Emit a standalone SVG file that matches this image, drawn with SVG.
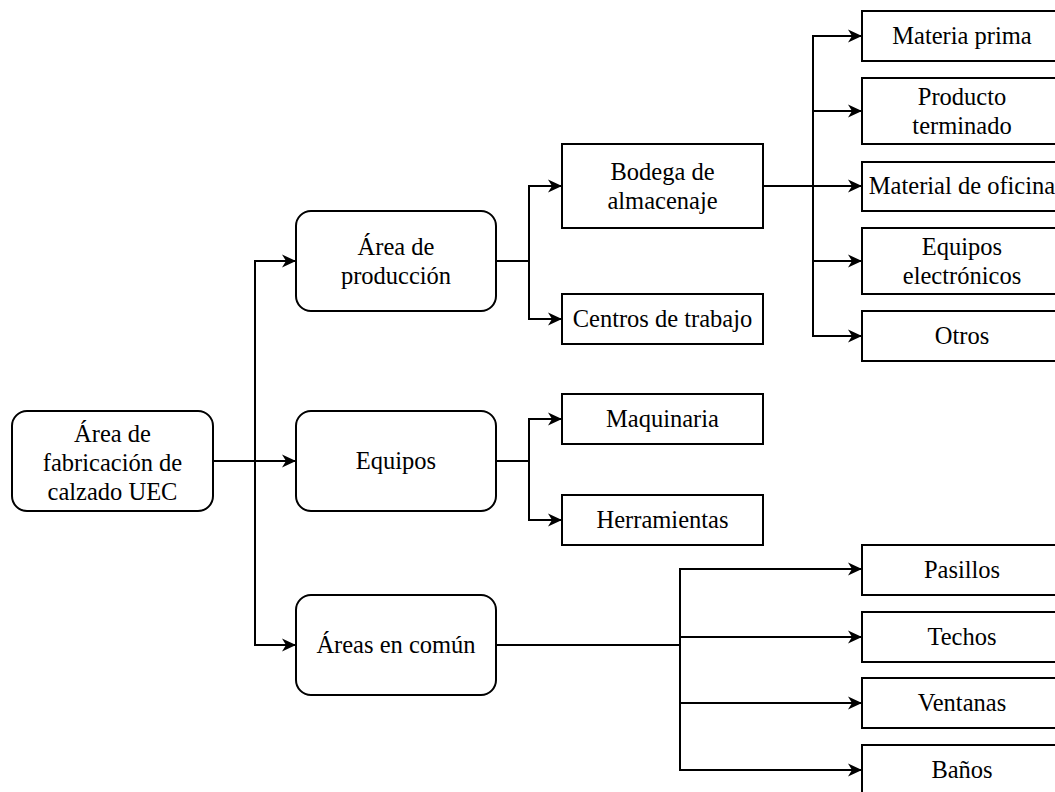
<svg xmlns="http://www.w3.org/2000/svg" width="1055" height="792" viewBox="0 0 1055 792">
  <style>
    .box { fill: #ffffff; stroke: #000000; stroke-width: 2; }
    .lbl { font-family: "Liberation Serif", "Times New Roman", serif; font-size: 24.5px; fill: #000000; text-anchor: middle; }
    .edge { fill: none; stroke: #000000; stroke-width: 2; marker-end: url(#arrow); }
  </style>
  <defs>
    <marker id="arrow" markerUnits="userSpaceOnUse" markerWidth="16" markerHeight="14" refX="14" refY="7" orient="auto">
      <path d="M0,0.5 L14,7 L0,13.5 L4,7 Z" fill="#000000"/>
    </marker>
  </defs>
  <rect width="1055" height="792" fill="#ffffff"/>

  <!-- connectors -->
  <g id="connectors">
    <path class="edge" d="M213,461 H296"/>
    <path class="edge" d="M213,461 H255 V261 H296"/>
    <path class="edge" d="M213,461 H255 V645 H296"/>

    <path class="edge" d="M496,261 H529 V186 H562"/>
    <path class="edge" d="M496,261 H529 V319 H562"/>

    <path class="edge" d="M496,461 H529 V419 H562"/>
    <path class="edge" d="M496,461 H529 V520 H562"/>

    <path class="edge" d="M763,186 H813 V36 H862"/>
    <path class="edge" d="M763,186 H813 V111 H862"/>
    <path class="edge" d="M763,186 H862"/>
    <path class="edge" d="M763,186 H813 V261 H862"/>
    <path class="edge" d="M763,186 H813 V336 H862"/>

    <path class="edge" d="M496,645 H680 V569 H862"/>
    <path class="edge" d="M496,645 H680 V637 H862"/>
    <path class="edge" d="M496,645 H680 V703 H862"/>
    <path class="edge" d="M496,645 H680 V770 H862"/>
  </g>

  <!-- root -->
  <g id="root">
    <rect class="box" x="12" y="411" width="201" height="100" rx="15"/>
    <text class="lbl" x="112.5" y="442">Área de</text>
    <text class="lbl" x="112.5" y="471">fabricación de</text>
    <text class="lbl" x="112.5" y="500">calzado UEC</text>
  </g>

  <!-- second level -->
  <g id="area-produccion">
    <rect class="box" x="296" y="211" width="200" height="100" rx="15"/>
    <text class="lbl" x="396" y="255">Área de</text>
    <text class="lbl" x="396" y="284">producción</text>
  </g>
  <g id="equipos">
    <rect class="box" x="296" y="411" width="200" height="100" rx="15"/>
    <text class="lbl" x="396" y="469">Equipos</text>
  </g>
  <g id="areas-comun">
    <rect class="box" x="296" y="595" width="200" height="100" rx="15"/>
    <text class="lbl" x="396" y="653">Áreas en común</text>
  </g>

  <!-- third level -->
  <g id="bodega">
    <rect class="box" x="562" y="144" width="201" height="84"/>
    <text class="lbl" x="662.5" y="180">Bodega de</text>
    <text class="lbl" x="662.5" y="209">almacenaje</text>
  </g>
  <g id="centros">
    <rect class="box" x="562" y="294" width="201" height="50"/>
    <text class="lbl" x="662.5" y="327">Centros de trabajo</text>
  </g>
  <g id="maquinaria">
    <rect class="box" x="562" y="394" width="201" height="50"/>
    <text class="lbl" x="662.5" y="427">Maquinaria</text>
  </g>
  <g id="herramientas">
    <rect class="box" x="562" y="495" width="201" height="50"/>
    <text class="lbl" x="662.5" y="528">Herramientas</text>
  </g>

  <!-- storage items -->
  <g id="materia-prima">
    <rect class="box" x="862" y="11" width="200" height="50"/>
    <text class="lbl" x="962" y="44">Materia prima</text>
  </g>
  <g id="producto-terminado">
    <rect class="box" x="862" y="78" width="200" height="66"/>
    <text class="lbl" x="962" y="105">Producto</text>
    <text class="lbl" x="962" y="134">terminado</text>
  </g>
  <g id="material-oficina">
    <rect class="box" x="862" y="162" width="200" height="49"/>
    <text class="lbl" x="962" y="194">Material de oficina</text>
  </g>
  <g id="equipos-electronicos">
    <rect class="box" x="862" y="228" width="200" height="66"/>
    <text class="lbl" x="962" y="255">Equipos</text>
    <text class="lbl" x="962" y="284">electrónicos</text>
  </g>
  <g id="otros">
    <rect class="box" x="862" y="311" width="200" height="50"/>
    <text class="lbl" x="962" y="344">Otros</text>
  </g>

  <!-- common areas -->
  <g id="pasillos">
    <rect class="box" x="862" y="545" width="200" height="50"/>
    <text class="lbl" x="962" y="578">Pasillos</text>
  </g>
  <g id="techos">
    <rect class="box" x="862" y="612" width="200" height="50"/>
    <text class="lbl" x="962" y="645">Techos</text>
  </g>
  <g id="ventanas">
    <rect class="box" x="862" y="678" width="200" height="50"/>
    <text class="lbl" x="962" y="711">Ventanas</text>
  </g>
  <g id="banos">
    <rect class="box" x="862" y="745" width="200" height="50"/>
    <text class="lbl" x="962" y="778">Baños</text>
  </g>
</svg>
